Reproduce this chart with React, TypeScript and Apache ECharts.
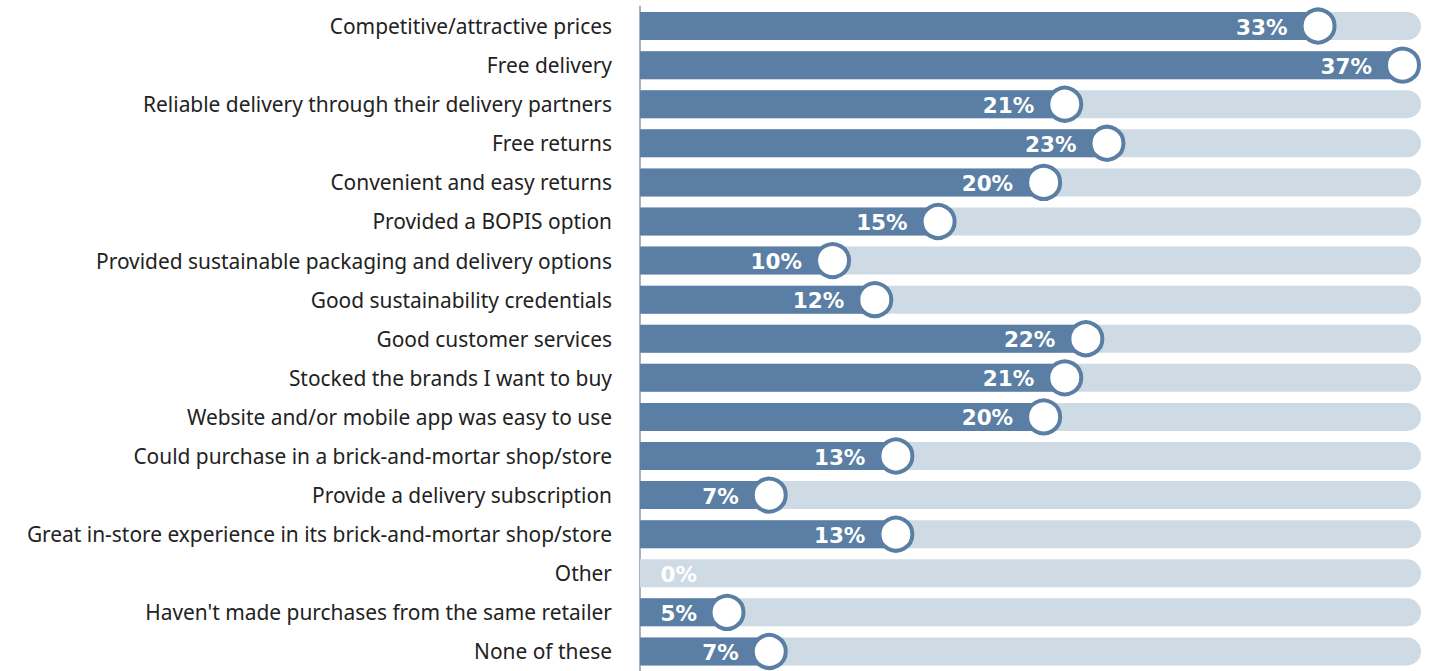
import React, { useEffect, useRef } from "react";
import * as echarts from "echarts";

const categories: string[] = [
  "Competitive/attractive prices",
  "Free delivery",
  "Reliable delivery through their delivery partners",
  "Free returns",
  "Convenient and easy returns",
  "Provided a BOPIS option",
  "Provided sustainable packaging and delivery options",
  "Good sustainability credentials",
  "Good customer services",
  "Stocked the brands I want to buy",
  "Website and/or mobile app was easy to use",
  "Could purchase in a brick-and-mortar shop/store",
  "Provide a delivery subscription",
  "Great in-store experience in its brick-and-mortar shop/store",
  "Other",
  "Haven't made purchases from the same retailer",
  "None of these",
];

const values: number[] = [33, 37, 21, 23, 20, 15, 10, 12, 22, 21, 20, 13, 7, 13, 0, 5, 7];

const AXIS_MAX = 37;

const DARK = "#5b7fa4";
const TRACK = "#cedbe5";

export default function App() {
  const ref = useRef<HTMLDivElement>(null);
  useEffect(() => {
    if (!ref.current) return;
    const chart = echarts.init(ref.current, undefined, { renderer: "svg" });
    const barH = 28;
    const ringR = 16.5;
    const ringW = 4;
    const outer = ringR + ringW / 2;
    chart.setOption({
      animation: false,
      grid: { left: 640, right: 27, top: 6.5, bottom: 0, containLabel: false },
      xAxis: { type: "value", min: 0, max: AXIS_MAX, show: false },
      yAxis: {
        type: "category",
        inverse: true,
        data: categories,
        axisLine: { show: true, lineStyle: { color: "#9fb3c7", width: 2 } },
        axisTick: { show: false },
        splitLine: { show: false },
        axisLabel: {
          margin: 28,
          fontSize: 20.9,
          color: "#222222",
          fontFamily: "'Noto Sans', sans-serif",
          padding: [0, 0, 3, 0],
        },
      },
      series: [
        {
          type: "custom",
          encode: { x: 0, y: 1 },
          data: values.map((v, i) => [v, i]),
          renderItem: (params: any, api: any) => {
            const v = api.value(0) as number;
            const idx = api.value(1) as number;
            const c = api.coord([v, idx]);
            const cs = params.coordSys;
            const cy = c[1];
            const children: any[] = [
              {
                type: "rect",
                shape: { x: cs.x, y: cy - barH / 2, width: cs.width, height: barH, r: [0, barH / 2, barH / 2, 0] },
                style: { fill: TRACK },
              },
            ];
            const cx = c[0] - outer;
            if (v > 0) {
              children.push({
                type: "rect",
                shape: { x: cs.x, y: cy - barH / 2, width: Math.max(0, cx - cs.x), height: barH },
                style: { fill: DARK },
              });
              children.push({
                type: "circle",
                shape: { cx, cy, r: ringR },
                style: { fill: "#ffffff", stroke: DARK, lineWidth: ringW },
              });
            }
            const labelRight = Math.max(c[0] - 49, cs.x + 57);
            children.push({
              type: "text",
              x: labelRight,
              y: cy + 1,
              style: {
                text: v + "%",
                fill: "#ffffff",
                fontSize: 21.5,
                fontWeight: "bold",
                fontFamily: "'DejaVu Sans', sans-serif",
                align: "right",
                verticalAlign: "middle",
              },
            });
            return { type: "group", children };
          },
        },
      ],
    });
    return () => chart.dispose();
  }, []);
  return (
    <div
      ref={ref}
      style={{ position: "absolute", left: 0, top: 0, width: 1448, height: 671, background: "#ffffff" }}
    />
  );
}
